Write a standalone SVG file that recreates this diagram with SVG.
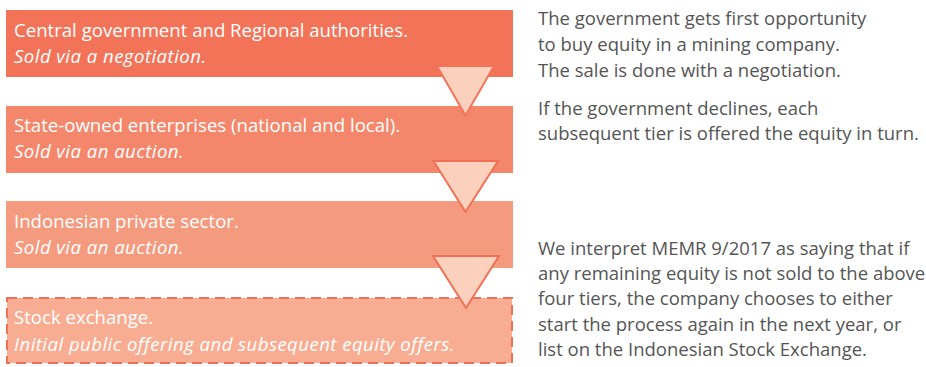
<svg xmlns="http://www.w3.org/2000/svg" width="926" height="367" viewBox="0 0 926 367">
<style>
.t{font-family:"Open Sans",Lato,"Liberation Sans",sans-serif;font-size:18.6px;font-weight:400;fill:#ffffff}
.i{font-style:italic;letter-spacing:0.45px}
.r{font-family:"Open Sans",Lato,"Liberation Sans",sans-serif;font-size:18.5px;font-weight:400;fill:#555555}
.tri{fill:#fbd0bd;stroke-width:2;stroke-linejoin:miter}
</style>
<rect width="926" height="367" fill="#ffffff"/>
<g id="tier1">
<rect x="6" y="10" width="507" height="67" fill="#f37359"/>
<text class="t" x="14" y="37">Central government and Regional authorities.</text>
<text class="t i" x="14" y="63">Sold via a negotiation.</text>
</g>
<g id="tier2">
<rect x="6" y="106" width="507" height="67" fill="#f4876b"/>
<text class="t" x="14" y="132">State-owned enterprises (national and local).</text>
<text class="t i" x="14" y="158">Sold via an auction.</text>
</g>
<g id="tier3">
<rect x="6" y="201" width="507" height="67" fill="#f49a7e"/>
<text class="t" x="14" y="228">Indonesian private sector.</text>
<text class="t i" x="14" y="254">Sold via an auction.</text>
</g>
<g id="tier4">
<rect x="7" y="298" width="505" height="65" fill="#f8ad92" stroke="#f07055" stroke-width="2" stroke-dasharray="10,6"/>
<text class="t" x="14" y="324">Stock exchange.</text>
<text class="t i" x="14" y="351">Initial public offering and subsequent equity offers.</text>
</g>
<g id="connectors">
<polygon class="tri" stroke="#f37359" points="437,66 494,66 465.5,115.5"/>
<polygon class="tri" stroke="#f07055" points="433.5,161 498,161 465.5,212"/>
<polygon class="tri" stroke="#f07055" points="433,256 499,256 466,308"/>
</g>
<g id="notes">
<text class="r" x="538" y="25">The government gets first opportunity</text>
<text class="r" x="538" y="51">to buy equity in a mining company.</text>
<text class="r" x="538" y="77">The sale is done with a negotiation.</text>
<text class="r" x="538" y="115">If the government declines, each</text>
<text class="r" x="538" y="140">subsequent tier is offered the equity in turn.</text>
<text class="r" x="538" y="255">We interpret MEMR 9/2017 as saying that if</text>
<text class="r" x="538" y="280">any remaining equity is not sold to the above</text>
<text class="r" x="538" y="305">four tiers, the company chooses to either</text>
<text class="r" x="538" y="331">start the process again in the next year, or</text>
<text class="r" x="538" y="356">list on the Indonesian Stock Exchange.</text>
</g>
</svg>
